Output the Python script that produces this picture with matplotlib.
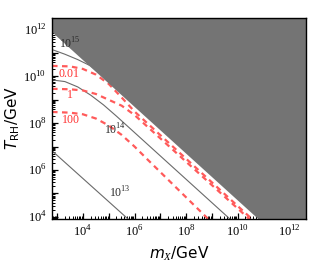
import numpy as np
import matplotlib
matplotlib.use("Agg")
import matplotlib.pyplot as plt
from matplotlib.ticker import LogLocator, FuncFormatter, NullFormatter

plt.rcParams['mathtext.fontset'] = 'custom'
plt.rcParams['mathtext.rm'] = 'Liberation Serif'
plt.rcParams['mathtext.it'] = 'DejaVu Sans:italic'
plt.rcParams['mathtext.sf'] = 'DejaVu Sans'
plt.rcParams['mathtext.cal'] = 'Liberation Serif:italic'

# axis range (log10)
x_lim = [2.8, 12.65]
y_lim = [3.9, 12.5]

# excluded region boundary (log10 m, log10 T)
bound_lx = [2.8, 10.85]
bound_ly = [11.9, 3.85]

# gray curves, labelled by scale
g15_lx = [2.8, 3.3, 3.8, 4.3, 4.7, 5.0]
g15_ly = [11.15, 10.95, 10.72, 10.45, 10.1, 9.75]
g14_lx = [2.8, 3.3, 3.8, 4.3, 4.8, 5.3, 6.0, 9.8]
g14_ly = [9.85, 9.78, 9.55, 9.2, 8.78, 8.3, 7.6, 3.8]
g13_lx = [2.8, 5.85]
g13_ly = [6.82, 3.8]

# red dashed curves
r001_lx = [2.8, 3.5, 4.0, 4.5, 5.0, 5.5, 6.0, 10.7]
r001_ly = [10.45, 10.43, 10.32, 10.08, 9.68, 9.1, 8.5, 3.75]
r1_lx = [2.8, 3.5, 4.0, 4.5, 5.0, 5.5, 6.0, 6.5, 10.6]
r1_ly = [9.47, 9.45, 9.4, 9.25, 9.0, 8.75, 8.35, 7.85, 3.75]
r100_lx = [2.8, 3.5, 4.0, 4.5, 5.0, 5.5, 6.0, 6.5, 8.95]
r100_ly = [8.48, 8.45, 8.38, 8.2, 7.9, 7.5, 7.0, 6.45, 3.8]

labels_gray = [r'$10^{15}$', r'$10^{14}$', r'$10^{13}$']
labels_gray_pos = [(3.48, 11.39), (5.25, 7.71), (5.44, 5.02)]
labels_red = [r'$0.01$', r'$1$', r'$100$']
labels_red_pos = [(3.46, 10.11), (3.5, 9.21), (3.54, 8.14)]

fig = plt.figure(figsize=(3.12, 2.66), dpi=100)
ax = fig.add_axes([52/312, 1-219/266, 254/312, 201/266])

gray_c = '#6a6a6a'
red_c = '#ff5a5a'

for lx, ly in [(g15_lx, g15_ly), (g14_lx, g14_ly), (g13_lx, g13_ly)]:
    ax.plot(10**np.array(lx), 10**np.array(ly), color=gray_c, lw=0.8, zorder=2)

for lx, ly in [(r001_lx, r001_ly), (r1_lx, r1_ly), (r100_lx, r100_ly)]:
    ax.plot(10**np.array(lx), 10**np.array(ly), color=red_c, lw=1.6,
            ls=(0, (2.5, 2)), zorder=3)

# shaded excluded region: above the boundary line, up to the frame
poly_x = [bound_lx[0], bound_lx[1], x_lim[1] + 0.5, x_lim[1] + 0.5, bound_lx[0]]
poly_y = [bound_ly[0], bound_ly[1], bound_ly[1], y_lim[1] + 0.5, y_lim[1] + 0.5]
ax.fill(10**np.array(poly_x), 10**np.array(poly_y), color='#747474', lw=0, zorder=4)

for t, (px, py) in zip(labels_gray, labels_gray_pos):
    ax.text(10**px, 10**py, t, color='#2a2a2a', fontsize=8.5, ha='center', va='center', zorder=5)
for t, (px, py) in zip(labels_red, labels_red_pos):
    ax.text(10**px, 10**py, t, color='#ff3030', fontsize=8.5, ha='center', va='center', zorder=5)

ax.set_xscale('log')
ax.set_yscale('log')
ax.set_xlim(10**x_lim[0], 10**x_lim[1])
ax.set_ylim(10**y_lim[0], 10**y_lim[1])

def fmt(v, pos):
    e = int(round(np.log10(v)))
    if e % 2 == 0:
        return r'$10^{%d}$' % e
    return ''

for axis in [ax.xaxis, ax.yaxis]:
    axis.set_major_locator(LogLocator(base=10, numticks=20))
    axis.set_major_formatter(FuncFormatter(fmt))
    axis.set_minor_locator(LogLocator(base=10, subs=np.arange(2, 10), numticks=20))
    axis.set_minor_formatter(NullFormatter())

ax.tick_params(which='both', direction='in', top=True, right=True, labelsize=9)
ax.tick_params(which='major', length=4.5, width=0.9, pad=4)
ax.tick_params(which='minor', length=2.2, width=0.7)
for s in ax.spines.values():
    s.set_linewidth(1.0)
    s.set_zorder(6)

ax.set_xlabel(r'$m_{\mathcal{X}}$/GeV', fontsize=11, labelpad=3)
ax.set_ylabel(r'$T_{\mathsf{RH}}$/GeV', fontsize=11, labelpad=1)

fig.savefig('out.png', dpi=100)
